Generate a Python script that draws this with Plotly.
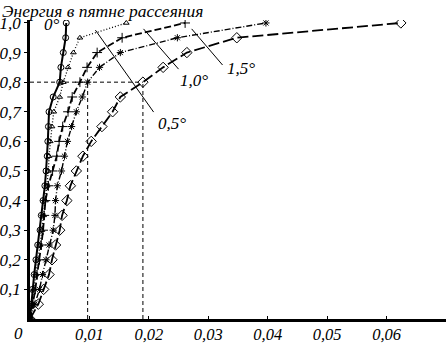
import plotly.graph_objects as go

# ---- data ----
energy = [0, 0.05, 0.1, 0.15, 0.2, 0.25, 0.3, 0.35, 0.4, 0.45, 0.5,
          0.55, 0.6, 0.65, 0.7, 0.75, 0.8, 0.85, 0.9, 0.95, 1.0]
r_0deg = [0, 0.0002, 0.0004, 0.0007, 0.0010, 0.0013, 0.0017, 0.0019, 0.0022, 0.0025, 0.0027,
          0.0029, 0.0030, 0.0031, 0.0032, 0.0039, 0.0050, 0.0052, 0.0056, 0.0060, 0.0061]
r_05deg = [0, 0.0003, 0.0006, 0.0010, 0.0013, 0.0017, 0.0020, 0.0023, 0.0026, 0.0029, 0.0031,
           0.0032, 0.0034, 0.0037, 0.0040, 0.0050, 0.0056, 0.0064, 0.0073, 0.0084, 0.0162]
r_10deg = [0, 0.0005, 0.0009, 0.0012, 0.0016, 0.0019, 0.0022, 0.0024, 0.0026, 0.0031, 0.0038,
           0.0045, 0.0049, 0.0055, 0.0064, 0.0071, 0.0084, 0.0096, 0.0113, 0.0155, 0.0261]
r_15deg = [0, 0.0008, 0.0016, 0.0021, 0.0027, 0.0032, 0.0039, 0.0042, 0.0043, 0.0046, 0.0053,
           0.0058, 0.0063, 0.0070, 0.0078, 0.0088, 0.0097, 0.0117, 0.0152, 0.0248, 0.0397]
r_20deg = [0, 0.0014, 0.0023, 0.0032, 0.0037, 0.0043, 0.0050, 0.0054, 0.0062, 0.0068, 0.0078,
           0.0089, 0.0103, 0.0121, 0.0139, 0.0152, 0.0190, 0.0224, 0.0264, 0.0348, 0.0624]

x_tickvals = [0.01, 0.02, 0.03, 0.04, 0.05, 0.06, 0.07]
x_ticktext = ["0,01", "0,02", "0,03", "0,04", "0,05", "0,06", "0,07"]
y_tickvals = [0.1, 0.2, 0.3, 0.4, 0.5, 0.6, 0.7, 0.8, 0.9, 1.0]
y_ticktext = ["0,1", "0,2", "0,3", "0,4", "0,5", "0,6", "0,7", "0,8", "0,9", "1,0"]

y_title = "Энергия в пятне рассеяния"
curve_labels = ["0°", "0,5°", "1,0°", "1,5°", "2,0°"]
label_x = [0.00378, 0.02395, 0.02765, 0.03555, 0.0542]
label_y = [0.995, 0.659, 0.804, 0.845, 1.030]

# leader lines (x0, y0, x1, y1)
leaders = [(0.0110, 0.976, 0.0208, 0.699),
           (0.0191, 0.980, 0.0250, 0.844),
           (0.0272, 0.980, 0.0324, 0.858)]
level = 0.8
level_x = [0.0097, 0.0190]

FONT = "Liberation Serif, Times New Roman, serif"
fig = go.Figure()

series = [
    (r_0deg, dict(symbol="circle-open", size=6), dict(width=2, dash="solid")),
    (r_05deg, dict(symbol="triangle-up-open", size=5), dict(width=1.3, dash="1px,2px")),
    (r_10deg, dict(symbol="cross-thin-open", size=7), dict(width=1.8, dash="7px,3px")),
    (r_15deg, dict(symbol="asterisk-open", size=6), dict(width=1.4, dash="6px,2px,1px,2px")),
    (r_20deg, dict(symbol="diamond-open", size=8), dict(width=1.8, dash="11px,4px")),
]
for xs, mk, ln in series:
    fig.add_trace(go.Scatter(
        x=xs, y=energy, mode="lines+markers",
        line=dict(color="black", **ln),
        marker=dict(color="black", line=dict(color="black", width=1), **mk),
        showlegend=False, hoverinfo="skip"))

shapes = []
for x0, y0, x1, y1 in leaders:
    shapes.append(dict(type="line", xref="x", yref="y", x0=x0, y0=y0, x1=x1, y1=y1,
                       line=dict(color="black", width=1)))
shapes.append(dict(type="line", xref="x", yref="y", x0=0, y0=level, x1=level_x[1], y1=level,
                   line=dict(color="black", width=1, dash="4px,3px")))
for lx in level_x:
    shapes.append(dict(type="line", xref="x", yref="y", x0=lx, y0=0, x1=lx, y1=level,
                       line=dict(color="black", width=1, dash="4px,3px")))

annotations = []
for t, ax, ay in zip(curve_labels, label_x, label_y):
    annotations.append(dict(text=t, x=ax, y=ay, xref="x", yref="y", showarrow=False,
                            font=dict(family=FONT, size=17, style="italic", color="black"),
                            xanchor="center", yanchor="middle"))
annotations.append(dict(text=y_title, x=-0.0708, y=1.0669, xref="paper", yref="paper",
                        showarrow=False, xanchor="left", yanchor="top", borderpad=0,
                        font=dict(family=FONT, size=17.5, style="italic", color="black")))
annotations.append(dict(text="0", x=-0.028, y=-0.047, xref="paper", yref="paper",
                        showarrow=False, xanchor="center", yanchor="middle",
                        font=dict(family=FONT, size=17, style="italic", color="black")))

fig.update_layout(
    width=448, height=344,
    margin=dict(l=29.5, r=2, t=20, b=25),
    paper_bgcolor="white", plot_bgcolor="white",
    shapes=shapes, annotations=annotations,
    xaxis=dict(range=[0, 0.07], tickvals=x_tickvals, ticktext=x_ticktext,
               showgrid=False, zeroline=False, showline=True, linecolor="black",
               linewidth=2.5, ticks="inside", ticklen=3, tickcolor="black",
               ticklabelstandoff=-2,
               tickfont=dict(family=FONT, size=16.5, style="italic", color="black"),
               automargin=False),
    yaxis=dict(range=[0, 1.01], tickvals=y_tickvals, ticktext=y_ticktext,
               showgrid=False, zeroline=False, showline=True, linecolor="black",
               linewidth=2.5, ticks="outside", ticklen=3, tickcolor="black",
               tickfont=dict(family=FONT, size=17, style="italic", color="black"),
               automargin=False),
)

fig.write_html("out.html", config={"displayModeBar": False},
               post_script="document.body.style.margin='0';document.body.style.overflow='hidden';")
